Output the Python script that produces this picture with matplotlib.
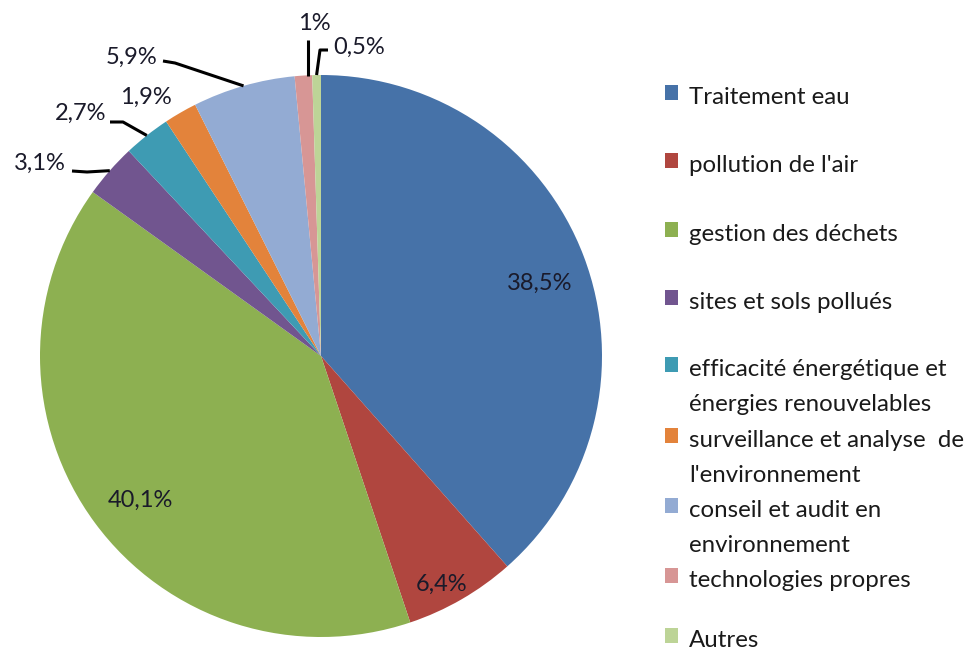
import matplotlib
matplotlib.use("Agg")
import matplotlib.pyplot as plt
import numpy as np

W, H = 967, 655

categories = [
    "Traitement eau",
    "pollution de l'air",
    "gestion des déchets",
    "sites et sols pollués",
    "efficacité énergétique et\nénergies renouvelables",
    "surveillance et analyse  de\nl'environnement",
    "conseil et audit en\nenvironnement",
    "technologies propres",
    "Autres",
]
shares = [38.5, 6.4, 40.1, 3.1, 2.7, 1.9, 5.9, 1.0, 0.5]
share_labels = ["38,5%", "6,4%", "40,1%", "3,1%", "2,7%", "1,9%", "5,9%", "1%", "0,5%"]
colors = ["#4672A8", "#B0463F", "#8DB051", "#71558F", "#3E9BB3",
          "#E3833B", "#93ABD3", "#D79695", "#BDD497"]

fig = plt.figure(figsize=(W / 100, H / 100), dpi=100)
fig.patch.set_facecolor("white")

# pie box in pixels: left 40, top 75, size 562
ax = fig.add_axes([40 / W, 1 - 637 / H, 562 / W, 562 / H])
wedges, _ = ax.pie(shares, colors=colors, startangle=90, counterclock=False,
                   radius=1.0, wedgeprops=dict(linewidth=0))
ax.set_xlim(-1, 1)
ax.set_ylim(-1, 1)
ax.set_aspect("equal")
ax.axis("off")


def px(x, y):
    # pixel position -> data coords of the pie axes
    return ((x - 321) / 281, (356 - y) / 281)


pct_font = dict(family="Lato", fontsize=17, color="#1a1a2a")

# labels sitting inside their slices
inside = {0: (540, 283), 1: (442, 584), 2: (140, 500)}
for i, (x, y) in inside.items():
    ax.text(*px(x, y), share_labels[i], ha="center", va="center", **pct_font)

# small slices: label centre, then the leader path (start, elbow) in pixels
outside = {
    3: ((40, 163), [(72, 171), (87, 172)]),
    4: ((81, 113), [(110, 122), (123, 122)]),
    5: ((146, 97), None),
    6: ((132, 57), [(163, 61), (175, 63)]),
    7: ((314, 23), [(308, 40)]),
    8: ((359, 47), [(328, 50), (320, 50)]),
}
for i, (txt, path) in outside.items():
    w = wedges[i]
    mid = np.deg2rad((w.theta1 + w.theta2) / 2)
    ax.text(*px(*txt), share_labels[i], ha="center", va="center", **pct_font)
    if path is None:
        continue
    pts = [px(*p) for p in path] + [(np.cos(mid), np.sin(mid))]
    if i == 7:
        pts[-1] = (pts[0][0], pts[-1][1])
    xs, ys = zip(*pts)
    ax.plot(xs, ys, color="black", lw=2.2, solid_capstyle="butt", clip_on=False)

# legend drawn row by row (baseline of first line, in pixels)
legend_base = [104, 172, 241, 309, 376, 447, 517, 587, 647]
line_gap = 35
leg_font = dict(family="Lato", fontsize=17.3, color="#1a1a1a")
for lab, col, y in zip(categories, colors, legend_base):
    fig.patches.append(plt.Rectangle((665 / W, 1 - (y - 4) / H), 13 / W, 15 / H,
                                     transform=fig.transFigure, facecolor=col,
                                     edgecolor="none"))
    for k, line in enumerate(lab.split("\n")):
        fig.text(689 / W, 1 - (y + k * line_gap) / H, line, ha="left",
                 va="baseline", **leg_font)

fig.savefig("out.png", dpi=100, facecolor="white")
